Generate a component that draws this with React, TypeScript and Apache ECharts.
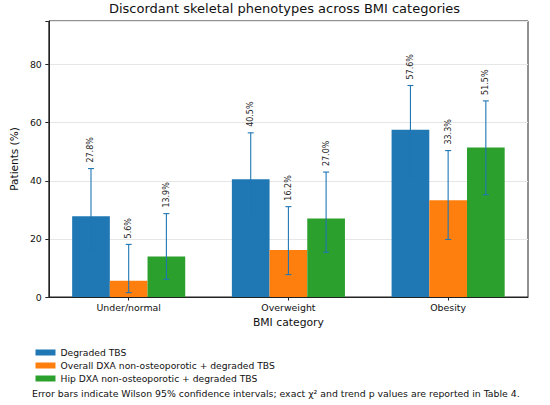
import React, { useEffect, useRef } from "react";
import * as echarts from "echarts";

const categories = ["Under/normal", "Overweight", "Obesity"];
const seriesNames = [
  "Degraded TBS",
  "Overall DXA non-osteoporotic + degraded TBS",
  "Hip DXA non-osteoporotic + degraded TBS",
];
const colors = ["#1f77b4", "#ff7f0e", "#2ca02c"];
const degraded = [27.8, 40.5, 57.6];
const overall = [5.6, 16.2, 33.3];
const hip = [13.9, 27.0, 51.5];
const degradedLow = [15.8, 26.3, 40.8];
const degradedHigh = [44.2, 56.5, 72.8];
const overallLow = [1.5, 7.7, 19.8];
const overallHigh = [18.1, 31.1, 50.4];
const hipLow = [6.1, 15.4, 35.2];
const hipHigh = [28.7, 43.0, 67.5];
const yTicks = [0, 20, 40, 60, 80];
const footnote =
  "Error bars indicate Wilson 95% confidence intervals; exact \u03c7\u00b2 and trend p values are reported in Table 4.";

const FONT = "DejaVu Sans";
const BAR_FRAC = 0.236;

export default function App() {
  const ref = useRef<HTMLDivElement>(null);
  useEffect(() => {
    if (!ref.current) return;
    const chart = echarts.init(ref.current, undefined, { renderer: "svg" });
    const values = [degraded, overall, hip];
    const lows = [degradedLow, overallLow, hipLow];
    const highs = [degradedHigh, overallHigh, hipHigh];

    const barSeries = values.map((vals, i) => ({
      type: "bar",
      name: seriesNames[i],
      data: vals,
      barWidth: BAR_FRAC * 100 + "%",
      barGap: "0%",
      itemStyle: { color: colors[i] },
      z: 2,
    }));

    const errData: any[] = [];
    values.forEach((vals, s) => {
      vals.forEach((v, c) => {
        errData.push([c, v, lows[s][c], highs[s][c], s]);
      });
    });

    const errSeries = {
      type: "custom",
      data: errData,
      z: 5,
      silent: true,
      renderItem: (params: any, api: any) => {
        const c = api.value(0);
        const v = api.value(1);
        const lo = api.value(2);
        const hi = api.value(3);
        const s = api.value(4);
        const band = api.size([1, 0])[0];
        const bw = band * BAR_FRAC;
        const cx = api.coord([c, 0])[0] + (s - 1) * bw;
        const yLo = api.coord([c, lo])[1];
        const yHi = api.coord([c, hi])[1];
        const cap = 3;
        const st = { stroke: "#1f77b4", lineWidth: 1.1 };
        return {
          type: "group",
          children: [
            { type: "line", shape: { x1: cx, y1: yLo, x2: cx, y2: yHi }, style: st },
            { type: "line", shape: { x1: cx - cap, y1: yLo, x2: cx + cap, y2: yLo }, style: st },
            { type: "line", shape: { x1: cx - cap, y1: yHi, x2: cx + cap, y2: yHi }, style: st },
            {
              type: "text",
              x: cx,
              y: yHi - 6,
              rotation: Math.PI / 2,
              style: {
                text: v.toFixed(1) + "%",
                fontFamily: FONT,
                fontSize: 8,
                fill: "#222",
                align: "left",
                verticalAlign: "middle",
              },
            },
          ],
        };
      },
    };

    chart.setOption({
      animation: false,
      backgroundColor: "#fff",
      title: {
        text: "Discordant skeletal phenotypes across BMI categories",
        left: 284.5,
        textAlign: "center",
        top: 2,
        padding: 0,
        textStyle: { fontFamily: FONT, fontSize: 13, fontWeight: "normal", color: "#111" },
      },
      grid: {
        left: 41,
        right: 22,
        top: 21,
        bottom: 108,
        show: true,
        borderColor: "#222",
        borderWidth: 1,
        backgroundColor: "transparent",
      },
      legend: {
        orient: "vertical",
        left: 35.5,
        top: 347,
        padding: 0,
        itemWidth: 20,
        itemHeight: 6,
        itemGap: 2,
        icon: "rect",
        data: seriesNames,
        textStyle: { fontFamily: FONT, fontSize: 9.2, color: "#111", lineHeight: 11 },
      },
      xAxis: {
        type: "category",
        data: categories,
        name: "BMI category",
        nameLocation: "middle",
        nameGap: 18,
        nameTextStyle: { fontFamily: FONT, fontSize: 10.8, color: "#111", verticalAlign: "top" },
        axisLine: { show: true, lineStyle: { color: "#222" } },
        axisTick: { show: true, alignWithLabel: true, length: 3.5, lineStyle: { color: "#222" } },
        axisLabel: { fontFamily: FONT, fontSize: 9.4, color: "#111", margin: 6 },
      },
      yAxis: {
        type: "value",
        min: 0,
        max: 95,
        interval: 20,
        name: "Patients (%)",
        nameLocation: "middle",
        nameGap: 29,
        nameTextStyle: { fontFamily: FONT, fontSize: 10.5, color: "#111" },
        axisLine: { show: true, lineStyle: { color: "#222" } },
        axisTick: { show: true, length: 3.5, lineStyle: { color: "#222" } },
        axisLabel: {
          fontFamily: FONT,
          fontSize: 9.4,
          color: "#111",
          margin: 7,
          formatter: (v: number) => (yTicks.includes(v) ? String(v) : ""),
        },
        splitLine: { show: true, lineStyle: { color: "#e6e6e6", width: 1 } },
      },
      graphic: [
        {
          type: "text",
          left: 32,
          top: 389,
          style: { text: footnote, fontFamily: FONT, fontSize: 9.35, fill: "#111" },
        },
      ],
      series: [...barSeries, errSeries],
    });
    return () => chart.dispose();
  }, []);
  return (
    <div
      ref={ref}
      style={{ position: "absolute", left: 0, top: 0, width: 550, height: 405 }}
    />
  );
}
